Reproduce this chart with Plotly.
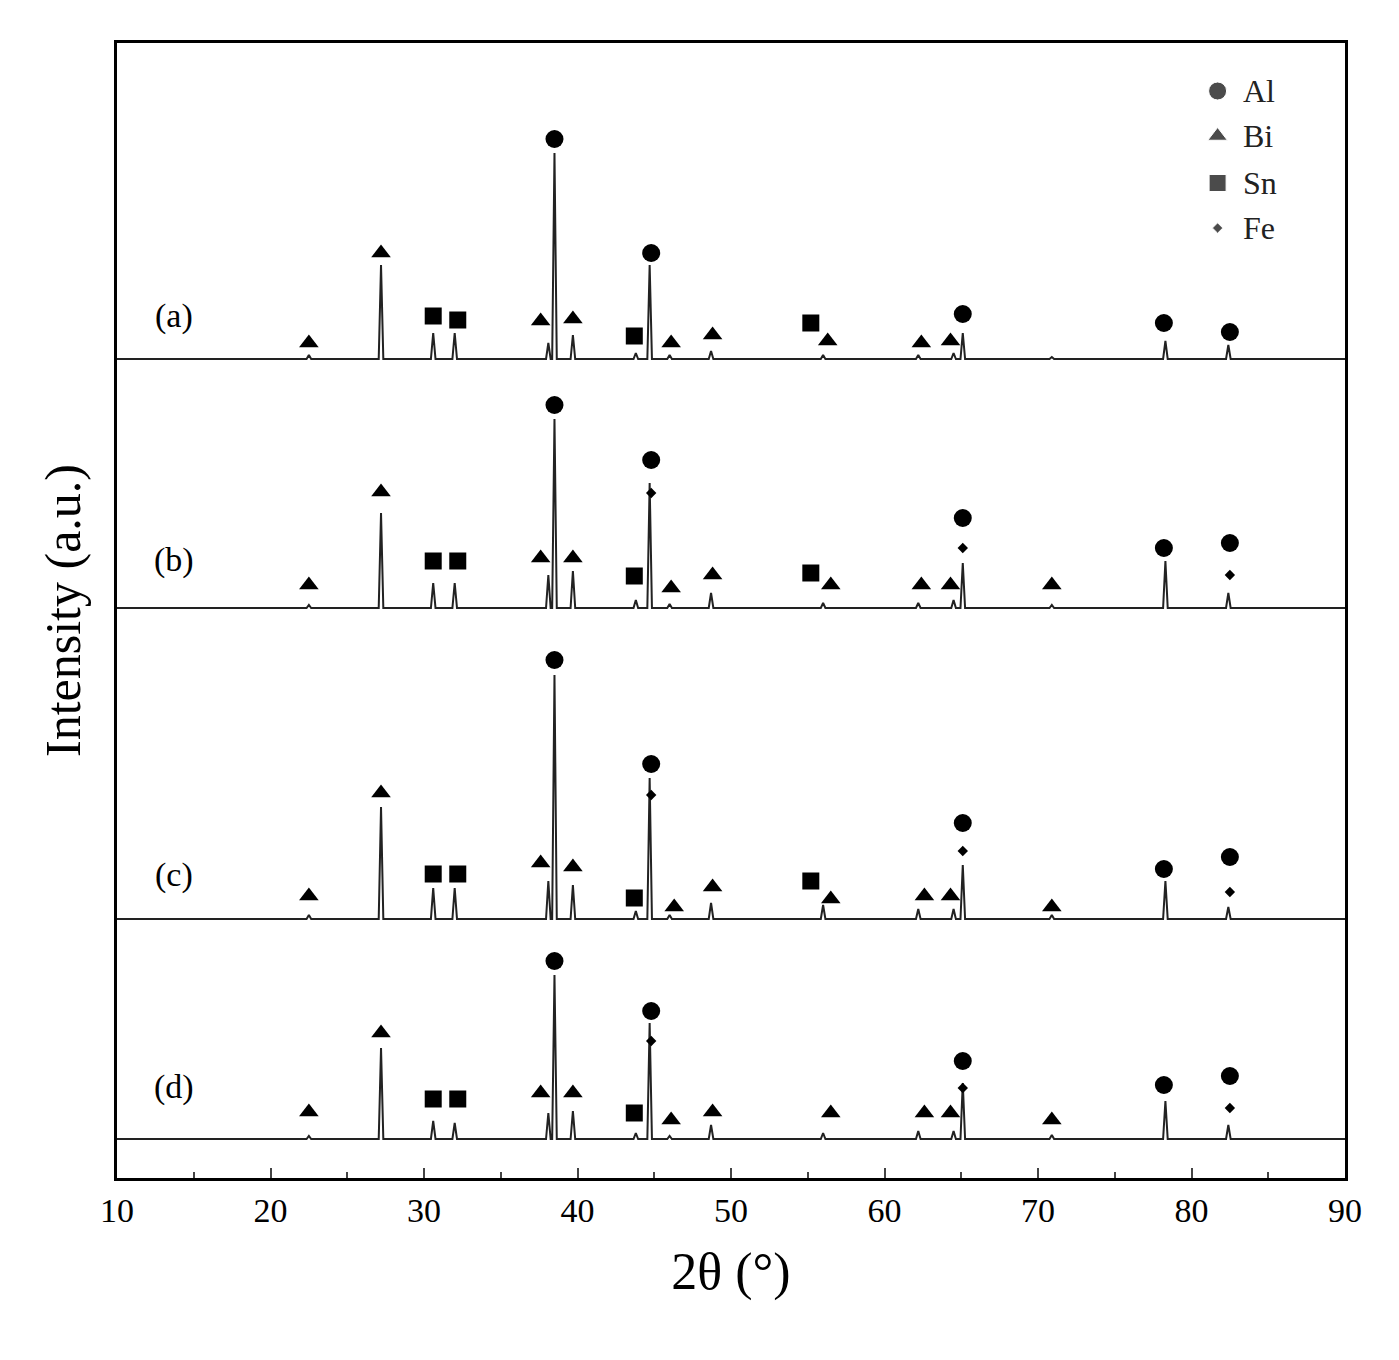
import plotly.graph_objects as go

# y values are in plot units (0 = bottom of frame, 1135 = top)
PEAK_POS = [22.5, 27.2, 30.6, 32.0, 38.1, 38.5, 39.7, 43.8, 44.7, 46.0, 48.7,
            56.0, 62.2, 64.5, 65.1, 70.9, 78.3, 82.4]

BASE = {"a": 819, "b": 570, "c": 259, "d": 39}
HEIGHTS = {
    "a": [4, 94, 26, 26, 16, 206, 24, 6, 94, 4, 8, 4, 4, 6, 26, 2, 18, 14],
    "b": [3, 95, 25, 25, 33, 189, 37, 8, 125, 4, 15, 5, 5, 8, 45, 3, 47, 15],
    "c": [4, 112, 31, 31, 38, 244, 34, 8, 141, 4, 16, 14, 10, 10, 54, 4, 38, 12],
    "d": [3, 91, 18, 16, 26, 164, 28, 6, 116, 3, 14, 6, 8, 8, 56, 4, 38, 14],
}

# marker annotations: (2theta, y in pixel from top)
TRI = {
    "a": [(22.5, 340), (27.2, 250), (37.6, 318), (39.7, 316), (46.1, 340), (48.8, 332),
          (56.3, 338), (62.4, 340), (64.3, 338)],
    "b": [(22.5, 582), (27.2, 489), (37.6, 555), (39.7, 555), (46.1, 585), (48.8, 572),
          (56.5, 582), (62.4, 582), (64.3, 582), (70.9, 582)],
    "c": [(22.5, 893), (27.2, 790), (37.6, 860), (39.7, 864), (46.3, 904), (48.8, 884),
          (56.5, 896), (62.6, 893), (64.3, 893), (70.9, 904)],
    "d": [(22.5, 1109), (27.2, 1030), (37.6, 1090), (39.7, 1090), (46.1, 1117), (48.8, 1109),
          (56.5, 1110), (62.6, 1110), (64.3, 1110), (70.9, 1117)],
}
SQ = {
    "a": [(30.6, 313), (32.2, 317), (43.7, 333), (55.2, 320)],
    "b": [(30.6, 558), (32.2, 558), (43.7, 573), (55.2, 570)],
    "c": [(30.6, 871), (32.2, 871), (43.7, 895), (55.2, 878)],
    "d": [(30.6, 1096), (32.2, 1096), (43.7, 1110)],
}
CIR = {
    "a": [(38.5, 136), (44.8, 250), (65.1, 311), (78.2, 320), (82.5, 329)],
    "b": [(38.5, 402), (44.8, 457), (65.1, 515), (78.2, 545), (82.5, 540)],
    "c": [(38.5, 657), (44.8, 761), (65.1, 820), (78.2, 866), (82.5, 854)],
    "d": [(38.5, 958), (44.8, 1008), (65.1, 1058), (78.2, 1082), (82.5, 1073)],
}
FE = {
    "a": [],
    "b": [(44.8, 490), (65.1, 545), (82.5, 572)],
    "c": [(44.8, 792), (65.1, 848), (82.5, 889)],
    "d": [(44.8, 1038), (65.1, 1085), (82.5, 1105)],
}
LABEL_Y = {"a": 313, "b": 557, "c": 872, "d": 1084}

LEGEND_NAMES = ["Al", "Bi", "Sn", "Fe"]
LEGEND_Y = [88, 133, 180, 225]

TOP_PX = 1175
FONT = "Liberation Serif"


def to_y(px):
    return TOP_PX - px


fig = go.Figure()

for key in ["a", "b", "c", "d"]:
    xs, ys = [10], [BASE[key]]
    for pos, h in zip(PEAK_POS, HEIGHTS[key]):
        xs += [pos - 0.15, pos, pos + 0.15]
        ys += [BASE[key], BASE[key] + h, BASE[key]]
    xs.append(90)
    ys.append(BASE[key])
    fig.add_trace(go.Scatter(x=xs, y=ys, mode="lines", line=dict(color="#222", width=2),
                             showlegend=False))
    for pts, sym, size in [(TRI[key], "triangle-up", 17), (SQ[key], "square", 17),
                           (CIR[key], "circle", 18), (FE[key], "diamond", 8)]:
        if pts:
            fig.add_trace(go.Scatter(x=[p[0] for p in pts], y=[to_y(p[1]) for p in pts],
                                     mode="markers", showlegend=False,
                                     marker=dict(symbol=sym, size=size, color="black")))
    fig.add_annotation(x=13.7, y=to_y(LABEL_Y[key]), text=f"({key})", showarrow=False,
                       font=dict(family=FONT, size=34, color="black"))

fig.add_trace(go.Scatter(
    x=[81.7] * 4, y=[to_y(v) for v in LEGEND_Y], mode="markers", showlegend=False,
    marker=dict(symbol=["circle", "triangle-up", "square", "diamond"],
                size=[18, 17, 17, 8], color="black")))
for name, yv in zip(LEGEND_NAMES, LEGEND_Y):
    fig.add_annotation(x=83.2, y=to_y(yv), text=name, showarrow=False, xanchor="left",
                       font=dict(family=FONT, size=32, color="#222"))

fig.update_layout(
    width=1399, height=1360, plot_bgcolor="white", paper_bgcolor="white",
    margin=dict(l=109, r=62, t=35, b=190),
    font=dict(family=FONT, color="black"),
)
fig.update_xaxes(range=[10, 90], dtick=10, ticks="inside", ticklen=10, tickwidth=2,
                 minor=dict(dtick=5, ticks="inside", ticklen=6, tickwidth=2),
                 showline=True, linecolor="black", linewidth=3, mirror=True,
                 showgrid=False, zeroline=False, tickfont=dict(size=34),
                 title=dict(text="2θ (°)", font=dict(size=52), standoff=25))
fig.update_yaxes(range=[0, 1135], showticklabels=False, ticks="",
                 showline=True, linecolor="black", linewidth=3, mirror=True,
                 showgrid=False, zeroline=False,
                 title=dict(text="Intensity (a.u.)", font=dict(size=50), standoff=18))

fig.write_html("out.html")
